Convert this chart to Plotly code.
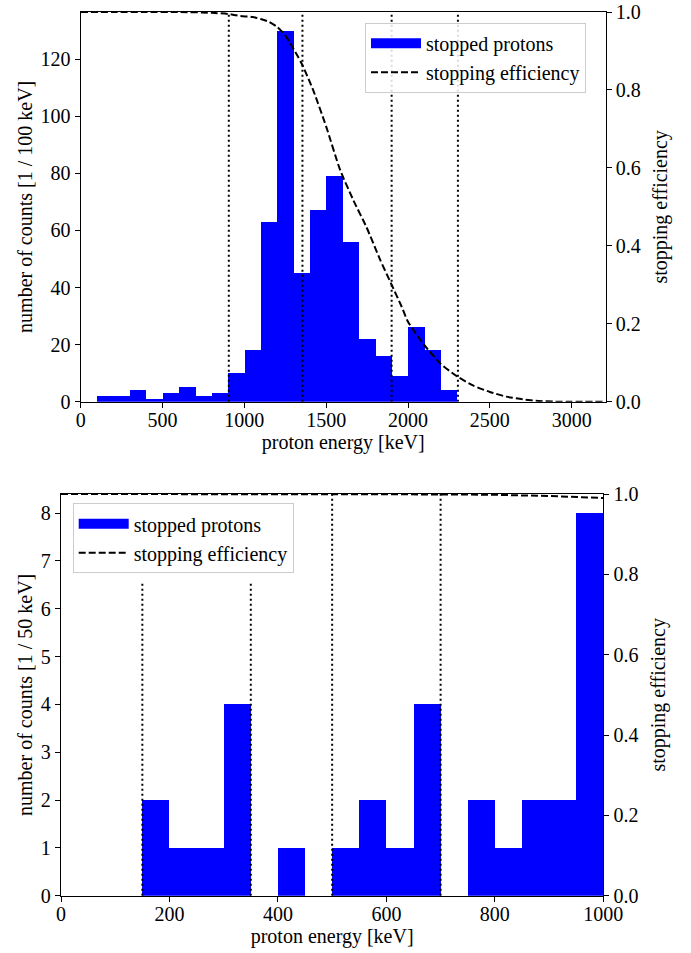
import plotly.graph_objects as go

# ---------------- data ----------------
# top panel: 100 keV bins
top_bin_left = [100, 200, 300, 400, 500, 600, 700, 800, 900, 1000, 1100,
                1200, 1300, 1400, 1500, 1600, 1700, 1800, 1900, 2000, 2100, 2200]
top_bin_width = 100
top_counts = [2, 2, 4, 1, 3, 5, 2, 3, 10, 18, 63,
              130, 45, 67, 79, 56, 22, 16, 9, 26, 18, 4]

top_eff_energy = [0, 200, 400, 600, 800, 900, 975, 1050, 1100, 1150, 1200,
                  1250, 1280, 1350, 1420, 1500, 1585, 1665, 1745, 1830, 1900,
                  1960, 2000, 2100, 2200, 2300, 2400, 2500, 2600, 2700, 2800,
                  2900, 3000, 3200]
top_eff = [1.0, 1.0, 1.0, 1.0, 0.998, 0.995, 0.99, 0.987, 0.982, 0.975, 0.962,
           0.94, 0.92, 0.868, 0.80, 0.706, 0.595, 0.518, 0.449, 0.364, 0.30,
           0.245, 0.205, 0.145, 0.097, 0.065, 0.041, 0.025, 0.013, 0.006, 0.002,
           0.0, 0.0, 0.0]

top_dotted_x = [905, 1355, 1900, 2305]

# bottom panel: 50 keV bins
bot_bin_left = [150, 200, 250, 300, 400, 500, 550, 600, 650, 750, 800, 850, 900, 950]
bot_bin_width = 50
bot_counts = [2, 1, 1, 4, 1, 1, 2, 1, 4, 2, 1, 2, 2, 8]

bot_eff_energy = [0, 200, 400, 600, 700, 800, 900, 1000]
bot_eff = [1.0, 1.0, 1.0, 1.0, 0.999, 0.998, 0.995, 0.99]

bot_dotted_x = [150, 350, 500, 700]
bot_dotted_top = [6.55, 6.55, 8.4, 8.4]

# ---------------- style ----------------
FONT = "Liberation Serif"
FS = 20
BLUE = "#0000ff"
W, H = 691, 953

def px_x(p):
    return p / W

def px_y(p):
    return 1 - p / H

top_dom_x = [px_x(80.7), px_x(605.7)]
top_dom_y = [px_y(401.7), px_y(12)]
bot_dom_x = [px_x(61), px_x(603.3)]
bot_dom_y = [px_y(895.7), px_y(494)]

fig = go.Figure()


def add_panel(xa, ya, ya2, leg, grp, bin_left, bin_width, counts,
              dotted_x, dotted_top, eff_e, eff, smooth):
    fig.add_trace(go.Bar(
        x=[l + bin_width / 2 for l in bin_left], y=counts,
        width=[bin_width] * len(counts),
        marker=dict(color=BLUE, line=dict(width=0)),
        name="stopped protons", xaxis=xa, yaxis=ya, showlegend=False,
        legendgroup=grp + "bar"))
    # legend proxy (wide blue swatch like matplotlib)
    fig.add_trace(go.Scatter(
        x=[None], y=[None], mode="lines",
        line=dict(color=BLUE, width=14),
        name="stopped protons", xaxis=xa, yaxis=ya, legend=leg,
        legendgroup=grp + "bar", hoverinfo="skip"))
    for xv, yt in zip(dotted_x, dotted_top):
        fig.add_trace(go.Scatter(
            x=[xv, xv], y=[0, yt], mode="lines",
            line=dict(color="black", width=2, dash="2px,3px"),
            showlegend=False, hoverinfo="skip", xaxis=xa, yaxis=ya))
    line = dict(color="black", width=2, dash="7px,3px")
    if smooth:
        line.update(shape="spline", smoothing=0.6)
    fig.add_trace(go.Scatter(
        x=eff_e, y=eff, mode="lines", line=line,
        name="stopping efficiency", xaxis=xa, yaxis=ya2, legend=leg,
        cliponaxis=False))


add_panel("x", "y", "y2", "legend", "top", top_bin_left, top_bin_width, top_counts,
          top_dotted_x, [136.5] * len(top_dotted_x), top_eff_energy, top_eff, True)
add_panel("x2", "y3", "y4", "legend2", "bot", bot_bin_left, bot_bin_width, bot_counts,
          bot_dotted_x, bot_dotted_top, bot_eff_energy, bot_eff, False)

axis_common = dict(showline=True, linecolor="black", linewidth=1.3,
                   ticks="outside", ticklen=5, tickwidth=1.2, tickcolor="black",
                   showgrid=False, zeroline=False, automargin=False,
                   tickfont=dict(family=FONT, size=FS, color="black"))

def title(t, standoff):
    return dict(text=t, font=dict(family=FONT, size=FS, color="black"), standoff=standoff)

leg_common = dict(xanchor="left", yanchor="top",
                  bgcolor="rgba(255,255,255,0.85)", bordercolor="#cccccc", borderwidth=1,
                  font=dict(family=FONT, size=FS, color="black"), itemwidth=50,
                  tracegroupgap=0)

fig.update_layout(
    width=W, height=H,
    margin=dict(l=0, r=0, t=0, b=0, autoexpand=False),
    paper_bgcolor="white", plot_bgcolor="white",
    bargap=0,
    font=dict(family=FONT, size=FS, color="black"),
    xaxis=dict(domain=top_dom_x, anchor="y", range=[0, 3208], dtick=500,
               mirror=True, ticklabelstandoff=-5,
               title=title("proton energy [keV]", 0), **axis_common),
    yaxis=dict(domain=top_dom_y, anchor="x", range=[0, 136.5], dtick=20,
               title=title("number of counts [1 / 100 keV]", 2), **axis_common),
    yaxis2=dict(domain=top_dom_y, anchor="x", overlaying="y", side="right",
                range=[0, 1], dtick=0.2, tickformat=".1f",
                title=title("stopping efficiency", 13), **axis_common),
    xaxis2=dict(domain=bot_dom_x, anchor="y3", range=[0, 1000], dtick=200,
                mirror=True, ticklabelstandoff=-5,
                title=title("proton energy [keV]", 2), **axis_common),
    yaxis3=dict(domain=bot_dom_y, anchor="x2", range=[0, 8.4], dtick=1,
                title=title("number of counts [1 / 50 keV]", 2), **axis_common),
    yaxis4=dict(domain=bot_dom_y, anchor="x2", overlaying="y3", side="right",
                range=[0, 1], dtick=0.2, tickformat=".1f",
                title=title("stopping efficiency", 13), **axis_common),
    legend=dict(x=px_x(365), y=px_y(22.7), **leg_common),
    legend2=dict(x=px_x(72.7), y=px_y(503.3), **leg_common),
)

fig.write_html("out.html")
